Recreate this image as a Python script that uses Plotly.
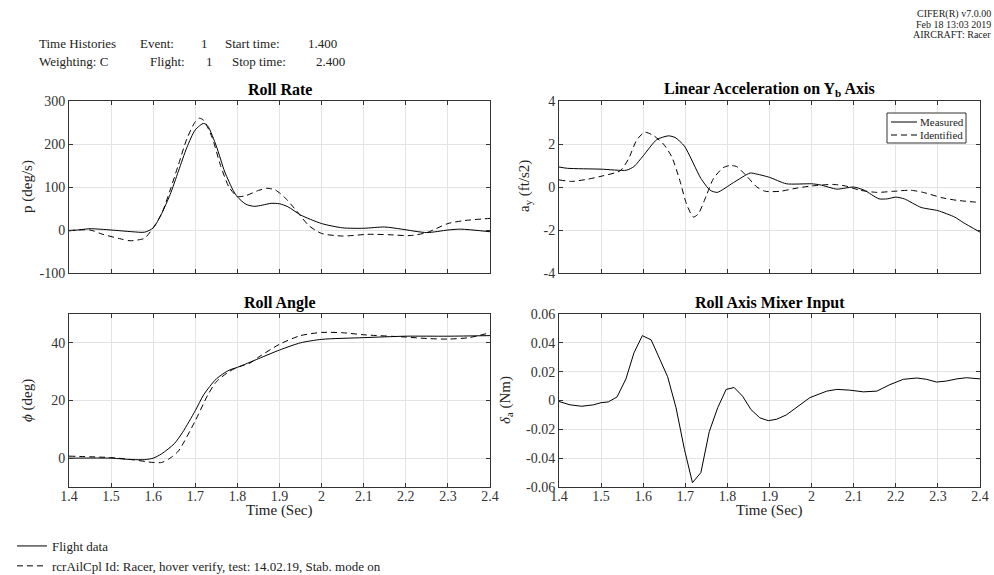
import plotly.graph_objects as go

# ---------------- data ----------------
# Roll rate p (deg/s)
t_p_meas = [1.40, 1.43, 1.45, 1.50, 1.55, 1.58, 1.60, 1.62, 1.64, 1.66, 1.68, 1.70, 1.72, 1.73, 1.75,
            1.77, 1.79, 1.80, 1.82, 1.84, 1.86, 1.88, 1.90, 1.92, 1.95, 2.00, 2.05, 2.10, 2.15, 2.19,
            2.25, 2.30, 2.33, 2.40]
p_meas = [-2, 1, 3, 0, -4, -5, 5, 38, 82, 137, 192, 233, 248, 241, 195,
          135, 92, 77, 60, 55, 58, 62, 61, 54, 35, 15, 5, 4, 7, 2,
          -6, 0, 2, -4]
t_p_id = [1.40, 1.45, 1.48, 1.52, 1.545, 1.57, 1.58, 1.60, 1.62, 1.64, 1.66, 1.68, 1.70, 1.71, 1.72,
          1.74, 1.76, 1.78, 1.80, 1.82, 1.85, 1.87, 1.89, 1.91, 1.94, 1.97, 2.00, 2.05, 2.11, 2.16,
          2.21, 2.25, 2.30, 2.34, 2.40]
p_id = [-1, 0, -10, -20, -25, -22, -19, 5, 38, 92, 152, 212, 252, 260, 255,
        215, 150, 100, 78, 80, 92, 97, 93, 78, 45, 10, -8, -14, -10, -11,
        -13, -6, 15, 22, 27]

# Lateral acceleration a_y (ft/s2)
t_ay_meas = [1.40, 1.42, 1.50, 1.56, 1.578, 1.60, 1.632, 1.66, 1.676, 1.698, 1.737, 1.759, 1.776,
             1.814, 1.854, 1.87, 1.90, 1.94, 2.00, 2.02, 2.06, 2.08, 2.10, 2.125, 2.16, 2.18,
             2.20, 2.22, 2.26, 2.30, 2.34, 2.36, 2.40]
ay_meas = [0.93, 0.87, 0.83, 0.78, 0.95, 1.45, 2.2, 2.38, 2.3, 1.9, 0.4, -0.15, -0.25,
           0.2, 0.65, 0.6, 0.45, 0.15, 0.15, 0.1, -0.1, -0.05, 0.0, -0.15, -0.55, -0.55,
           -0.47, -0.55, -0.95, -1.1, -1.4, -1.65, -2.1]
t_ay_id = [1.40, 1.43, 1.47, 1.50, 1.545, 1.565, 1.585, 1.604, 1.624, 1.648, 1.668, 1.687, 1.703,
           1.719, 1.731, 1.75, 1.767, 1.79, 1.806, 1.822, 1.846, 1.87, 1.89, 1.925, 1.965, 2.00,
           2.05, 2.08, 2.115, 2.155, 2.195, 2.235, 2.265, 2.31, 2.345, 2.40]
ay_id = [0.33, 0.26, 0.37, 0.5, 0.75, 1.3, 2.2, 2.55, 2.4, 2.0, 1.4, 0.3, -0.8,
         -1.4, -1.25, -0.4, 0.4, 0.9, 1.0, 0.95, 0.5, 0.0, -0.2, -0.2, -0.05, 0.05,
         0.12, 0.05, -0.15, -0.25, -0.2, -0.15, -0.25, -0.5, -0.62, -0.72]

# Roll angle phi (deg)
t_phi_meas = [1.40, 1.50, 1.55, 1.58, 1.60, 1.62, 1.65, 1.67, 1.70, 1.72, 1.75, 1.78, 1.80, 1.85,
              1.90, 1.95, 2.00, 2.10, 2.20, 2.30, 2.40]
phi_meas = [0, 0, -0.5, -0.5, 0, 1.5, 5, 9, 16.5, 22, 27.5, 30.5, 31.5, 34.5,
            37.5, 40, 41.2, 41.8, 42.3, 42.3, 42.5]
t_phi_id = [1.40, 1.50, 1.55, 1.60, 1.62, 1.64, 1.66, 1.70, 1.73, 1.75, 1.78, 1.80, 1.83, 1.85,
            1.90, 1.95, 2.00, 2.05, 2.10, 2.20, 2.25, 2.30, 2.35, 2.40]
phi_id = [0.7, 0.2, -0.5, -1.5, -1.5, 0, 2.5, 13, 22, 26.5, 30, 31.5, 33, 35,
          39.5, 42.5, 43.6, 43.5, 42.8, 42, 41.5, 41.3, 41.8, 43.5]

# Roll axis mixer input delta_a (Nm)
t_da = [1.40, 1.426, 1.454, 1.482, 1.50, 1.517, 1.538, 1.559, 1.578, 1.598, 1.619, 1.638, 1.658,
        1.678, 1.698, 1.717, 1.737, 1.757, 1.777, 1.797, 1.816, 1.836, 1.856, 1.877, 1.897,
        1.917, 1.94, 1.996, 2.036, 2.06, 2.09, 2.123, 2.155, 2.186, 2.218, 2.25, 2.273, 2.297,
        2.32, 2.345, 2.368, 2.40]
da = [-0.0007, -0.003, -0.004, -0.003, -0.0015, -0.001, 0.0025, 0.015, 0.033, 0.045, 0.042, 0.03,
      0.0165, -0.005, -0.034, -0.057, -0.050, -0.0215, -0.005, 0.0077, 0.009, 0.003, -0.0063,
      -0.012, -0.014, -0.013, -0.010, 0.002, 0.0065, 0.0077, 0.0072, 0.006, 0.0065, 0.011,
      0.0147, 0.0156, 0.0147, 0.0128, 0.0135, 0.015, 0.0158, 0.015]

# tick labels
x_tickvals = [1.4, 1.5, 1.6, 1.7, 1.8, 1.9, 2.0, 2.1, 2.2, 2.3, 2.4]
x_ticktext = ["1.4", "1.5", "1.6", "1.7", "1.8", "1.9", "2", "2.1", "2.2", "2.3", "2.4"]
p_ticks = [-100, 0, 100, 200, 300]
p_ticktext = ["-100", "0", "100", "200", "300"]
ay_ticks = [-4, -2, 0, 2, 4]
ay_ticktext = ["-4", "-2", "0", "2", "4"]
phi_ticks = [0, 20, 40]
phi_ticktext = ["0", "20", "40"]
da_ticks = [-0.06, -0.04, -0.02, 0, 0.02, 0.04, 0.06]
da_ticktext = ["-0.06", "-0.04", "-0.02", "0", "0.02", "0.04", "0.06"]

legend_flight = "Flight data"
legend_model = "rcrAilCpl Id: Racer, hover verify, test: 14.02.19, Stab. mode on"
legend_meas = "Measured"
legend_ident = "Identified"

# ---------------- figure ----------------
W, H = 994, 575
FONT = "Liberation Serif"
AX = "#333333"
GRID = "#e3e3e3"
TXT = "#222222"
DASH = "6px,4px"


def px(x):
    return x / W


def py(y):
    return 1 - y / H


solid = dict(color="black", width=1)
dashed = dict(color="black", width=1, dash=DASH)

fig = go.Figure()
fig.add_trace(go.Scatter(x=t_p_meas, y=p_meas, mode="lines", line=dict(**solid, shape="spline", smoothing=0.7),
                         name=legend_flight, legend="legend", xaxis="x", yaxis="y"))
fig.add_trace(go.Scatter(x=t_p_id, y=p_id, mode="lines", line=dict(**dashed, shape="spline", smoothing=0.7),
                         name=legend_model, legend="legend", xaxis="x", yaxis="y"))
fig.add_trace(go.Scatter(x=t_ay_meas, y=ay_meas, mode="lines", line=dict(**solid, shape="spline", smoothing=0.6),
                         name=legend_meas, showlegend=False, xaxis="x2", yaxis="y2"))
fig.add_trace(go.Scatter(x=t_ay_id, y=ay_id, mode="lines", line=dict(**dashed, shape="spline", smoothing=0.6),
                         name=legend_ident, showlegend=False, xaxis="x2", yaxis="y2"))
fig.add_trace(go.Scatter(x=t_phi_meas, y=phi_meas, mode="lines", line=dict(**solid, shape="spline", smoothing=0.7),
                         showlegend=False, xaxis="x3", yaxis="y3"))
fig.add_trace(go.Scatter(x=t_phi_id, y=phi_id, mode="lines", line=dict(**dashed, shape="spline", smoothing=0.7),
                         showlegend=False, xaxis="x3", yaxis="y3"))
fig.add_trace(go.Scatter(x=t_da, y=da, mode="lines", line=solid,
                         showlegend=False, xaxis="x4", yaxis="y4"))

xd1 = [px(69), px(490)]
xd2 = [px(559), px(980)]
yd_top = [py(273), py(101)]
yd_bot = [py(487), py(314)]

common = dict(showline=True, linecolor=AX, linewidth=1, mirror="ticks", ticks="inside", ticklen=4,
              tickcolor=AX, tickwidth=1, showgrid=True, gridcolor=GRID, gridwidth=1, zeroline=False,
              tickfont=dict(family=FONT, size=14, color="#333333"), fixedrange=True, automargin=False)

xcommon = dict(common, range=[1.4, 2.4], tickmode="array", tickvals=x_tickvals, ticktext=x_ticktext)

fig.update_layout(
    template="none",
    width=W, height=H,
    margin=dict(l=0, r=0, t=0, b=0, pad=0, autoexpand=False),
    paper_bgcolor="white", plot_bgcolor="white",
    font=dict(family=FONT, color=TXT),
    xaxis=dict(xcommon, domain=xd1, anchor="y", showticklabels=False),
    yaxis=dict(common, domain=yd_top, anchor="x", range=[-100, 300], tickmode="array",
               tickvals=p_ticks, ticktext=p_ticktext),
    xaxis2=dict(xcommon, domain=xd2, anchor="y2", showticklabels=False),
    yaxis2=dict(common, domain=yd_top, anchor="x2", range=[-4, 4], tickmode="array",
                tickvals=ay_ticks, ticktext=ay_ticktext),
    xaxis3=dict(xcommon, domain=xd1, anchor="y3", ticklabelstandoff=-4),
    yaxis3=dict(common, domain=yd_bot, anchor="x3", range=[-10, 50], tickmode="array",
                tickvals=phi_ticks, ticktext=phi_ticktext),
    xaxis4=dict(xcommon, domain=xd2, anchor="y4", ticklabelstandoff=-4),
    yaxis4=dict(common, domain=yd_bot, anchor="x4", range=[-0.06, 0.06], tickmode="array",
                tickvals=da_ticks, ticktext=da_ticktext),
    legend=dict(x=px(12), y=py(531), xanchor="left", yanchor="top", bgcolor="rgba(0,0,0,0)",
                borderwidth=0, font=dict(family=FONT, size=13, color=TXT), itemwidth=30,
                tracegroupgap=0),
    showlegend=True,
)

annotations = []


def txt(text, x, y, size=13, xanchor="left", yanchor="middle", bold=False, angle=0, color=TXT):
    annotations.append(dict(text=("<b>%s</b>" % text) if bold else text, x=px(x), y=py(y),
                            xref="paper", yref="paper", showarrow=False, xanchor=xanchor,
                            yanchor=yanchor, textangle=angle, borderpad=0,
                            font=dict(family=FONT, size=size, color=color)))


# header
txt("Time Histories", 38, 43)
txt("Event:", 139, 43)
txt("1", 200, 43)
txt("Start time:", 224, 43)
txt("1.400", 307, 43)
txt("Weighting: C", 38, 61)
txt("Flight:", 149, 61)
txt("1", 205, 61)
txt("Stop time:", 231, 61)
txt("2.400", 315, 61)
txt("CIFER(R) v7.0.00", 992, 14, size=10, xanchor="right")
txt("Feb 18 13:03 2019", 992, 24, size=10, xanchor="right")
txt("AIRCRAFT: Racer", 992, 34, size=10, xanchor="right")

# panel titles
txt("Roll Rate", 279.5, 89, size=16, xanchor="center", bold=True, color="black")
txt("Linear Acceleration on Y<sub>b</sub> Axis", 769.5, 89, size=16, xanchor="center", bold=True, color="black")
txt("Roll Angle", 279.5, 303, size=16, xanchor="center", bold=True, color="black")
txt("Roll Axis Mixer Input", 769.5, 303, size=16, xanchor="center", bold=True, color="black")

# axis titles
txt("p (deg/s)", 27, 187, size=15, xanchor="center", angle=-90)
txt("a<sub>y</sub> (ft/s2)", 525, 186, size=15, xanchor="center", angle=-90)
txt("<i>ϕ</i> (deg)", 28, 401, size=15, xanchor="center", angle=-90)
txt("<i>δ</i><sub>a</sub> (Nm)", 506, 400, size=15, xanchor="center", angle=-90)
txt("Time (Sec)", 279.5, 510, size=15, xanchor="center")
txt("Time (Sec)", 769.5, 510, size=15, xanchor="center")

# boxed key for the acceleration panel
txt(legend_meas, 919, 122, size=11)
txt(legend_ident, 919, 135, size=11)

fig.update_layout(annotations=annotations)

shapes = [
    dict(type="rect", xref="paper", yref="paper", x0=px(887), x1=px(966), y0=py(143), y1=py(113),
         line=dict(color=AX, width=1), fillcolor="white", layer="above"),
    dict(type="line", xref="paper", yref="paper", x0=px(891), x1=px(917), y0=py(122), y1=py(122),
         line=dict(color="black", width=1), layer="above"),
    dict(type="line", xref="paper", yref="paper", x0=px(891), x1=px(917), y0=py(135), y1=py(135),
         line=dict(color="black", width=1, dash=DASH), layer="above"),
]
fig.update_layout(shapes=shapes)

fig.write_html("out.html", config={"displayModeBar": False, "staticPlot": False},
               post_script="document.body.style.margin='0';document.body.style.padding='0';")
